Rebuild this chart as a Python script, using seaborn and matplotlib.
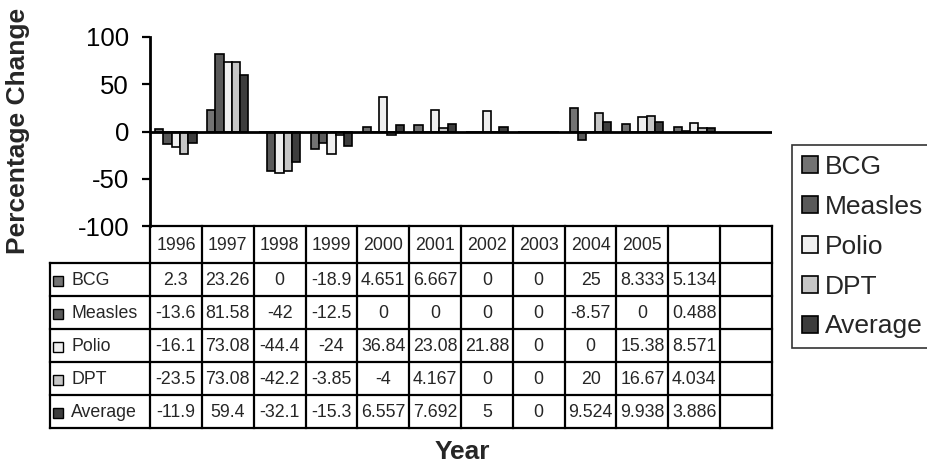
import numpy as np
import pandas as pd
import matplotlib
matplotlib.use("Agg")
import matplotlib.pyplot as plt
from matplotlib.patches import Rectangle
import seaborn as sns

# ---- data -------------------------------------------------------------
headers = ["1996", "1997", "1998", "1999", "2000", "2001", "2002", "2003",
           "2004", "2005", "", " "]
series = ["BCG", "Measles", "Polio", "DPT", "Average"]

bcg = [2.3, 23.26, 0, -18.9, 4.651, 6.667, 0, 0, 25, 8.333, 5.134]
measles = [-13.6, 81.58, -42, -12.5, 0, 0, 0, 0, -8.57, 0, 0.488]
polio = [-16.1, 73.08, -44.4, -24, 36.84, 23.08, 21.88, 0, 0, 15.38, 8.571]
dpt = [-23.5, 73.08, -42.2, -3.85, -4, 4.167, 0, 0, 20, 16.67, 4.034]
average = [-11.9, 59.4, -32.1, -15.3, 6.557, 7.692, 5, 0, 9.524, 9.938, 3.886]

colors = ["#737373", "#595959", "#efefef", "#c6c6c6", "#3d3d3d"]

values = dict(zip(series, [bcg, measles, polio, dpt, average]))
rows = []
for name, vals in values.items():
    for year, v in zip(headers, vals):
        rows.append({"Year": year, "Vaccine": name, "Change": v})
df = pd.DataFrame(rows)

# ---- figure -----------------------------------------------------------
sns.set_style("white")
plt.rcParams["font.family"] = ["Liberation Sans", "DejaVu Sans"]
plt.rcParams["axes.unicode_minus"] = False

W, H = 927, 470
fig = plt.figure(figsize=(W / 100, H / 100), dpi=100)

ax_l, ax_r, ax_t, ax_b = 150, 772, 37, 226
ax = fig.add_axes([ax_l / W, 1 - ax_b / H, (ax_r - ax_l) / W, (ax_b - ax_t) / H])

sns.barplot(data=df, x="Year", y="Change", hue="Vaccine", order=headers,
            hue_order=series, palette=colors, edgecolor="black",
            linewidth=1.2, width=0.8, saturation=1, ax=ax)

ax.set_xlim(-0.5, len(headers) - 0.5)
ax.set_ylim(-100, 100)
ax.set_yticks([-100, -50, 0, 50, 100])
ax.set_xticks([])
ax.set_xlabel("")
ax.set_ylabel("")
ax.axhline(0, color="black", lw=2, zorder=5)
for s in ["top", "right", "bottom"]:
    ax.spines[s].set_visible(False)
ax.spines["left"].set_linewidth(2)
ax.spines["left"].set_color("black")
ax.tick_params(axis="y", left=True, length=6, width=1.6, color="black",
               labelsize=18.5, pad=9, labelcolor="black")

ax.get_legend().remove()

# ---- data table under the bars ----------------------------------------
tbl_top, hdr_bot, tbl_bot = 226, 263, 428
tax = fig.add_axes([ax_l / W, 1 - tbl_bot / H, (ax_r - ax_l) / W,
                    (tbl_bot - tbl_top) / H])
tax.set_xlim(ax.get_xlim())
tax.set_ylim(tbl_bot, tbl_top)
tax.axis("off")

unit_px = (ax_r - ax_l) / len(headers)


def px_x(px):
    return -0.5 + (px - ax_l) / unit_px


x_left = px_x(50)
x_right = len(headers) - 0.5
row_h = (tbl_bot - hdr_bot) / len(series)
row_edges = [hdr_bot + i * row_h for i in range(len(series) + 1)]

lw = 1.6
kw = dict(color="black", lw=lw, clip_on=False, solid_capstyle="projecting")
tax.plot([-0.5, x_right], [tbl_top, tbl_top], **kw)
for y in row_edges:
    tax.plot([x_left, x_right], [y, y], **kw)
for k in range(len(headers) + 1):
    x = k - 0.5
    tax.plot([x, x], [tbl_top, tbl_bot], **kw)
tax.plot([x_left, x_left], [hdr_bot, tbl_bot], **kw)

fs_tbl = 12.8
for k, h in enumerate(headers):
    tax.text(k, (tbl_top + hdr_bot) / 2 + 1, h, ha="center", va="center",
             fontsize=fs_tbl, clip_on=False)

for i, name in enumerate(series):
    yc = (row_edges[i] + row_edges[i + 1]) / 2
    tax.add_patch(Rectangle((px_x(53), yc - 4), 10 / unit_px, 10,
                            facecolor=colors[i], edgecolor="black", lw=1,
                            clip_on=False))
    tax.text(px_x(71), yc + 1, name, ha="left", va="center",
             fontsize=fs_tbl, clip_on=False)
    for k, v in enumerate(values[name]):
        tax.text(k, yc + 1, f"{v:g}", ha="center", va="center",
                 fontsize=fs_tbl, clip_on=False)

# ---- legend and axis titles -------------------------------------------
leg_handles = [Rectangle((0, 0), 1, 1, facecolor=c, edgecolor="black", lw=1.2)
               for c in colors]
leg = fig.legend(leg_handles, series, loc="upper left",
                 bbox_to_anchor=(792 / W, 1 - 145 / H), fontsize=19,
                 frameon=True, fancybox=False, handlelength=0.62,
                 handleheight=0.62, handletextpad=0.25, labelspacing=0.6,
                 borderpad=0.38, borderaxespad=0)
leg.get_frame().set_edgecolor("black")
leg.get_frame().set_linewidth(1.2)

fig.text(18 / W, 1 - 131 / H, "Percentage Change", rotation=90,
         ha="center", va="center", fontsize=19, fontweight="bold")
fig.text(462 / W, 1 - 452 / H, "Year", ha="center", va="center",
         fontsize=19, fontweight="bold")

fig.savefig("out.png", dpi=100)
